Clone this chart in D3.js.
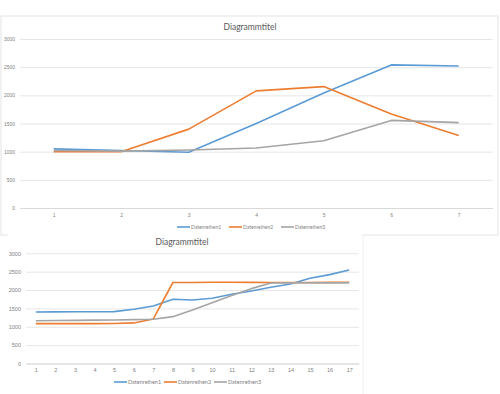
<!DOCTYPE html>
<html>
<head>
<meta charset="utf-8">
<script src="https://cdn.jsdelivr.net/npm/d3@7"></script>
<style>
  body { margin: 0; background: #fff; }
  svg { display: block; font-family: Lato, "Open Sans", sans-serif; }
</style>
</head>
<body>
<svg width="500" height="394"></svg>
<script>
// chart data (top chart)
var cats1 = [1, 2, 3, 4, 5, 6, 7];
var s1a = [1050, 1020, 990, 1500, 2040, 2540, 2520];
var s1b = [1000, 1000, 1400, 2080, 2155, 1670, 1285];
var s1c = [1020, 1010, 1030, 1065, 1195, 1555, 1515];

// bottom chart
var cats2 = [1, 2, 3, 4, 5, 6, 7, 8, 9, 10, 11, 12, 13, 14, 15, 16, 17];
var s2a = [1400, 1405, 1408, 1410, 1412, 1475, 1565, 1750, 1730, 1775, 1885, 1975, 2075, 2165, 2320, 2420, 2548];
var s2b = [1085, 1085, 1085, 1085, 1088, 1105, 1212, 2205, 2205, 2210, 2210, 2208, 2205, 2205, 2205, 2208, 2210];
var s2c = [1165, 1170, 1175, 1180, 1185, 1195, 1203, 1275, 1458, 1657, 1848, 2038, 2193, 2195, 2195, 2195, 2195];

var yTicks = [0, 500, 1000, 1500, 2000, 2500, 3000];
var seriesNames = ['Datenreihen1', 'Datenreihen2', 'Datenreihen3'];
var colors = ['#5b9bd5', '#ed7d31', '#a5a5a5'];
var title = 'Diagrammtitel';

var svg = d3.select('svg');

function drawChart(opt) {
  var g = svg.append('g');
  // frame
  g.append('rect')
    .attr('x', opt.frame[0]).attr('y', opt.frame[1])
    .attr('width', opt.frame[2]).attr('height', opt.frame[3])
    .attr('fill', '#fff')
    .attr('stroke', opt.border ? '#e4e4e4' : 'none');

  var xScale = d3.scalePoint().domain(opt.cats).range([opt.left, opt.right]).padding(0.5);
  var yScale = d3.scaleLinear().domain([0, 3000]).range([opt.bottom, opt.top]);

  // gridlines + y labels
  var yAxis = d3.axisLeft(yScale).tickValues(yTicks)
    .tickSize(-(opt.right - opt.left)).tickPadding(opt.tickPad).tickFormat(d3.format('d'));
  var ya = g.append('g').attr('transform', 'translate(' + opt.left + ',0)').call(yAxis);
  ya.select('.domain').remove();
  ya.selectAll('line').attr('stroke', '#e6e6e6').attr('stroke-width', 1);
  ya.selectAll('text').attr('fill', '#7f7f7f').style('font-size', opt.fs + 'px');

  // x labels
  var xAxis = d3.axisBottom(xScale).tickSize(0).tickPadding(opt.xPad);
  var xa = g.append('g').attr('transform', 'translate(0,' + opt.bottom + ')').call(xAxis);
  xa.select('.domain').attr('stroke', '#d9d9d9');
  xa.selectAll('text').attr('fill', '#7f7f7f').style('font-size', opt.fs + 'px');

  // lines
  var line = d3.line()
    .x(function (d, i) { return xScale(opt.cats[i]); })
    .y(function (d) { return yScale(d); });
  opt.series.forEach(function (s, k) {
    g.append('path').datum(s)
      .attr('d', line)
      .attr('fill', 'none')
      .attr('stroke', colors[k])
      .attr('stroke-width', 1.6)
      .attr('stroke-linejoin', 'round');
  });

  // title
  g.append('text')
    .attr('x', opt.titleX).attr('y', opt.titleY)
    .attr('text-anchor', 'middle')
    .attr('fill', '#595959')
    .style('font-size', opt.titleFs + 'px')
    .text(title);

  // legend
  seriesNames.forEach(function (n, k) {
    var lx = opt.legX + k * opt.legStep;
    g.append('line')
      .attr('x1', lx).attr('x2', lx + opt.legLine)
      .attr('y1', opt.legY).attr('y2', opt.legY)
      .attr('stroke', colors[k]).attr('stroke-width', 1.6);
    g.append('text')
      .attr('x', lx + opt.legLine + 1).attr('y', opt.legY)
      .attr('dy', '0.35em')
      .attr('fill', '#7f7f7f')
      .style('font-size', opt.fs + 'px')
      .text(n);
  });
}

drawChart({
  frame: [1, 16, 497, 219], border: true,
  cats: cats1, series: [s1a, s1b, s1c],
  left: 20, right: 492.5, top: 39, bottom: 208,
  fs: 5, tickPad: 5, xPad: 5,
  titleX: 250, titleY: 30, titleFs: 8.5,
  legX: 177, legY: 227, legStep: 52, legLine: 13
});

drawChart({
  frame: [8, 234, 355, 162], border: false,
  cats: cats2, series: [s2a, s2b, s2c],
  left: 26, right: 359, top: 253.3, bottom: 363.5,
  fs: 5.5, tickPad: 5, xPad: 5,
  titleX: 182, titleY: 245, titleFs: 8.5,
  legX: 114, legY: 382, legStep: 50, legLine: 13
});
// right edge of lower chart
svg.append('line').attr('x1', 363).attr('x2', 363).attr('y1', 234).attr('y2', 394)
  .attr('stroke', '#f0f0f0');
</script>
</body>
</html>
